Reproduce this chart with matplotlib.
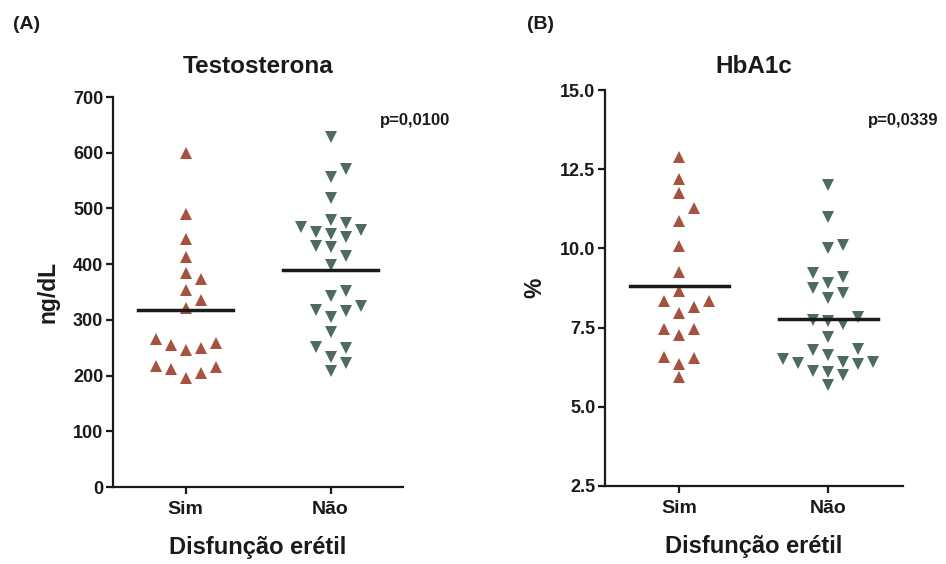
import numpy as np
import matplotlib
matplotlib.use("Agg")
import matplotlib.pyplot as plt

plt.rcParams['font.family'] = ['Liberation Sans', 'DejaVu Sans']
plt.rcParams['font.weight'] = 'bold'
plt.rcParams['axes.labelweight'] = 'bold'
plt.rcParams['axes.titleweight'] = 'bold'

# dados
groups = ['Sim', 'Não']

testo_sim = [600, 490, 445, 413, 385, 373, 354, 336, 321,
             265, 258, 255, 249, 246, 217, 215, 211, 204, 195]
testo_nao = [628, 570, 557, 518, 479, 473, 466, 461, 458, 455, 449,
             433, 430, 415, 398, 351, 343, 324, 318, 316, 305,
             278, 251, 249, 233, 222, 209]
testo_mean = [318, 390]
testo_p = 'p=0,0100'

hba_sim = [12.88, 12.18, 11.76, 11.27, 10.88, 10.08, 9.27, 8.66, 8.35, 8.35,
           8.16, 7.97, 7.46, 7.46, 7.27, 6.56, 6.53, 6.35, 5.93]
hba_nao = [12.0, 11.0, 10.11, 10.0, 9.21, 9.11, 8.9, 8.74, 8.6, 8.42,
           7.84, 7.74, 7.72, 7.61, 7.21, 6.81, 6.79, 6.64, 6.5, 6.42,
           6.42, 6.37, 6.34, 6.14, 6.11, 6.0, 5.69]
hba_mean = [8.82, 7.76]
hba_p = 'p=0,0339'

col_sim = '#A5523F'
col_nao = '#4F6A5E'
txt = '#1a1a1a'


def swarm(vals, px_per_unit, min_px=13):
    # colunas discretas 0, +1, -1, +2, -2 ... tipo GraphPad
    vals = np.asarray(vals, dtype=float)
    cols = np.zeros(len(vals))
    placed = []
    for i in np.argsort(vals):
        y = vals[i] * px_per_unit
        k = 0
        while True:
            c = ((k + 1) // 2) * (1 if k % 2 else -1)
            if all(not (pc == c and abs(py - y) < min_px) for pc, py in placed):
                break
            k += 1
        placed.append((c, y))
        cols[i] = c
    return cols


def panel(ax, sim, nao, means, ylim, yticks, ylabel, title, ptext, title_pad, pxy):
    ax.set_xlim(-0.5, 1.5)
    ax.set_ylim(*ylim)
    fig = ax.figure
    pos = ax.get_position()
    h_px = pos.height * fig.get_figheight() * fig.dpi
    w_px = pos.width * fig.get_figwidth() * fig.dpi
    ppu_y = h_px / (ylim[1] - ylim[0])
    ppu_x = w_px / 2.0
    step = 15 / ppu_x

    for i, (vals, mk, c) in enumerate([(sim, '^', col_sim), (nao, 'v', col_nao)]):
        xo = swarm(vals, ppu_y) * step
        ax.plot(i + xo, vals, linestyle='none', marker=mk, markersize=8.5,
                color=c, markeredgewidth=0, clip_on=False)
        ax.plot([i - 0.33, i + 0.33], [means[i], means[i]], color=txt, lw=2.5)

    for s in ['top', 'right']:
        ax.spines[s].set_visible(False)
    for s in ['left', 'bottom']:
        ax.spines[s].set_linewidth(1.6)
        ax.spines[s].set_color(txt)
    ax.set_xticks([0, 1])
    ax.set_xticklabels(groups, fontsize=14)
    ax.set_yticks(yticks)
    ax.tick_params(axis='both', length=5, width=1.6, color=txt, labelcolor=txt)
    ax.tick_params(axis='y', labelsize=13, pad=2)
    ax.tick_params(axis='x', pad=5)
    ax.set_xlabel('Disfunção erétil', fontsize=17, color=txt, labelpad=13)
    ax.set_ylabel(ylabel, fontsize=16.5, color=txt, labelpad=10)
    ax.set_title(title, fontsize=17.5, color=txt, pad=title_pad)
    ax.text(pxy[0], pxy[1], ptext, transform=ax.transAxes, fontsize=12,
            color=txt, ha='left', va='baseline')


fig = plt.figure(figsize=(9.46, 5.64), dpi=100)
ax1 = fig.add_axes([0.1195, 0.1365, 0.3066, 0.6915])
ax2 = fig.add_axes([0.6395, 0.1383, 0.315, 0.702])

panel(ax1, testo_sim, testo_nao, testo_mean, (0, 700), np.arange(0, 701, 100),
      'ng/dL', 'Testosterona', testo_p, 17, (0.921, 0.928))
panel(ax2, hba_sim, hba_nao, hba_mean, (2.5, 15.0), np.arange(2.5, 15.01, 2.5),
      '%', 'HbA1c', hba_p, 12, (0.883, 0.912))
ax2.set_yticklabels([f'{v:.1f}' for v in np.arange(2.5, 15.01, 2.5)])

fig.text(13 / 946, 1 - 29 / 564, '(A)', fontsize=14, color=txt, va='baseline')
fig.text(527 / 946, 1 - 29 / 564, '(B)', fontsize=14, color=txt, va='baseline')

fig.savefig('out.png', dpi=100)
